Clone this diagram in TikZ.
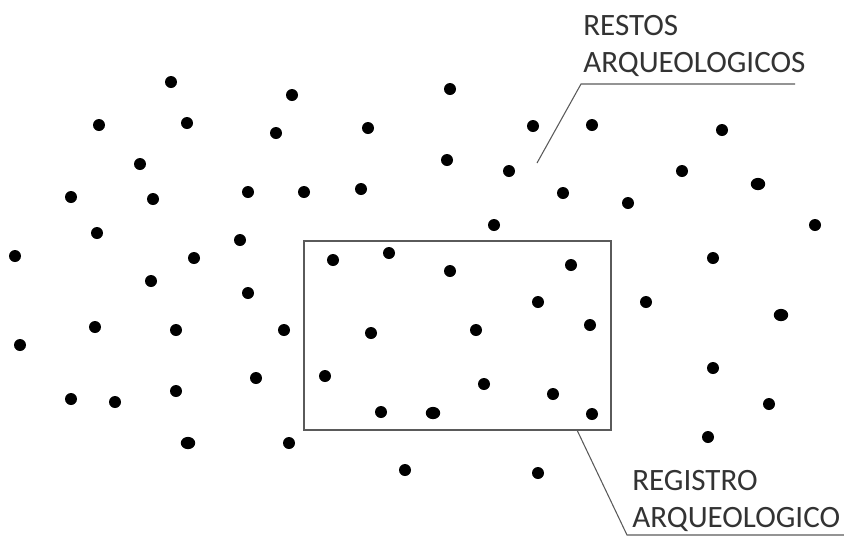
\documentclass[tikz,border=0pt]{standalone}
\usepackage{fontspec}
\setmainfont{Carlito}
\definecolor{textgray}{HTML}{333333}
\definecolor{linegray}{HTML}{5A5A5A}

\tikzset{
  findspot/.style={fill=black},
  leader/.style={draw=linegray, line width=0.8pt},
  frame/.style={draw=linegray, line width=1.4pt},
  tagtext/.style={inner sep=0pt, anchor=north west, align=left, text=textgray,
    font=\fontsize{23.3}{28}\selectfont}
}

\begin{document}
\begin{tikzpicture}[x=0.75pt,y=-0.75pt]
      \useasboundingbox (0,0) rectangle (844,537);
      % restos dispersos
      \foreach \x/\y in {171/82,292/95,450/89,99/125,187/123,276/133,368/128,533/126,592/125,722/130,
                         140/164,447/160,509/171,682/171,71/197,153/199,248/192,304/192,361/189,
                         563/193,628/203,97/233,240/240,494/225,815/225,15/256,194/258,333/260,
                         389/253,450/271,571/265,713/258,151/281,248/293,538/302,646/302,20/345,
                         95/327,176/330,284/330,371/333,476/330,590/325,325/376,256/378,484/384,
                         553/394,713/368,71/399,115/402,176/391,381/412,592/414,769/404,289/443,
                         708/437,405/470,538/473}
        \fill[findspot] (\x,\y) circle (4.5pt);
      \foreach \x/\y in {758/184,781/315,433/413,188/443}
        \fill[findspot] (\x,\y) ellipse (5.4pt and 4.6pt);
      % area excavada
      \draw[frame] (304,241) rectangle (611,430);
      \coordinate (r1) at (537,163);
      \coordinate (r2) at (581,84);
      \coordinate (r3) at (795,84);
      \coordinate (g1) at (577,430);
      \coordinate (g2) at (627,535);
      \coordinate (g3) at (844,535);
      \draw[leader] (r1) -- (r2) -- (r3);
      \draw[leader] (g1) -- (g2) -- (g3);
      \node[tagtext] (restos) at (583,15) {RESTOS\\ARQUEOLOGICOS};
      \node[tagtext] (registro) at (632,470) {REGISTRO\\ARQUEOLOGICO};
\end{tikzpicture}
\end{document}
